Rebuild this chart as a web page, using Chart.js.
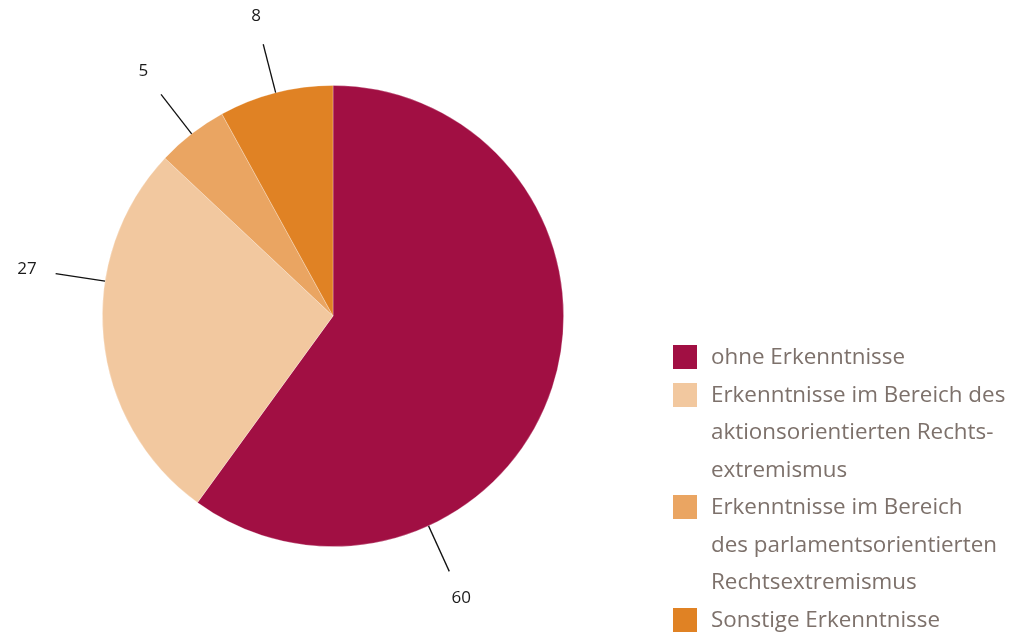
<!DOCTYPE html>
<html>
<head>
<meta charset="utf-8">
<script src="https://cdn.jsdelivr.net/npm/chart.js@4"></script>
<style>
  html, body { margin: 0; padding: 0; background: #fff; }
  #wrap { position: relative; width: 1018px; height: 635px; }
  #legend { position: absolute; left: 673px; top: 343px; font-family: 'Open Sans', sans-serif; font-size: 22.4px; color: #7d716b; }
  .item { display: flex; align-items: flex-start; }
  .box { width: 24px; height: 24px; margin-right: 14px; margin-top: 2px; flex: none; }
  .txt div { line-height: 37.5px; height: 37.5px; margin-top: -6px; margin-bottom: 6px; white-space: nowrap; }
</style>
</head>
<body>
<div id="wrap">
  <canvas id="chart" width="1018" height="635"></canvas>
  <div id="legend"></div>
</div>
<script>
// Data
const categories = [
    ['ohne Erkenntnisse'],
    ['Erkenntnisse im Bereich des', 'aktionsorientierten Rechts-', 'extremismus'],
    ['Erkenntnisse im Bereich', 'des parlamentsorientierten', 'Rechtsextremismus'],
    ['Sonstige Erkenntnisse']
];
const values = [60, 27, 5, 8];
const colors = ['#a10f43', '#f2c89f', '#eaa562', '#e08224'];

// where along each slice the leader line sits (0 = start, 1 = end of slice)
const labelPos = [0.72, 0.645, 0.5, 0.5];

const leaderPlugin = {
    id: 'leaders',
    afterDatasetsDraw(chart) {
        const ctx = chart.ctx;
        const meta = chart.getDatasetMeta(0);
        meta.data.forEach((arc, i) => {
            const p = arc.getProps(['x', 'y', 'startAngle', 'endAngle', 'outerRadius'], true);
            const a = p.startAngle + (p.endAngle - p.startAngle) * labelPos[i];
            const r = p.outerRadius;
            const cos = Math.cos(a), sin = Math.sin(a);
            ctx.save();
            ctx.strokeStyle = '#111';
            ctx.lineWidth = 1.3;
            ctx.beginPath();
            ctx.moveTo(p.x + cos * r, p.y + sin * r);
            ctx.lineTo(p.x + cos * (r + 50), p.y + sin * (r + 50));
            ctx.stroke();
            ctx.fillStyle = '#1a1a1a';
            ctx.font = '17px "Open Sans", sans-serif';
            ctx.textAlign = 'center';
            ctx.textBaseline = 'middle';
            ctx.fillText(String(values[i]), p.x + cos * (r + 79), p.y + sin * (r + 79));
            ctx.restore();
        });
    }
};

const chart = new Chart(document.getElementById('chart'), {
    type: 'pie',
    data: {
        labels: categories.map(c => c.join(' ')),
        datasets: [{
            data: values,
            backgroundColor: colors,
            borderColor: 'rgba(255,255,255,0.35)',
            borderWidth: 0.8
        }]
    },
    options: {
        responsive: false,
        animation: false,
        layout: { padding: { left: 102, right: 454, top: 85, bottom: 88 } },
        plugins: {
            legend: { display: false },
            tooltip: { enabled: false }
        }
    },
    plugins: [leaderPlugin]
});

// HTML legend built from the same arrays
const legend = document.getElementById('legend');
categories.forEach((lines, i) => {
    const item = document.createElement('div');
    item.className = 'item';
    const box = document.createElement('div');
    box.className = 'box';
    box.style.background = colors[i];
    const txt = document.createElement('div');
    txt.className = 'txt';
    lines.forEach(l => {
        const d = document.createElement('div');
        d.textContent = l;
        txt.appendChild(d);
    });
    item.appendChild(box);
    item.appendChild(txt);
    legend.appendChild(item);
});
</script>
</body>
</html>
